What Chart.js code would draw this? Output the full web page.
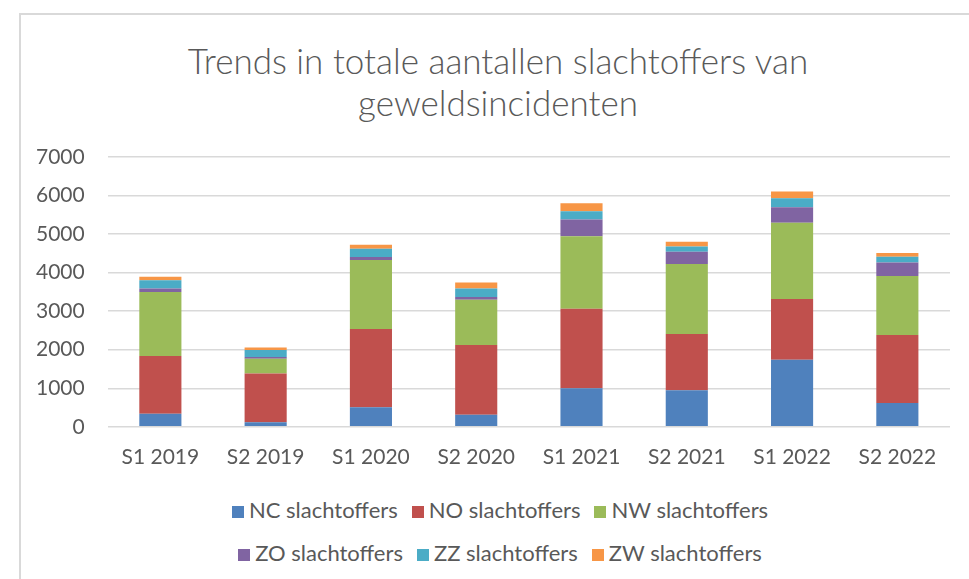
<!DOCTYPE html>
<html lang="nl">
<head>
  <meta charset="UTF-8" />
  <title>Trends slachtoffers</title>
  <script src="https://cdn.jsdelivr.net/npm/chart.js"></script>
  <style>
    body { margin: 0; background: #fff; font-family: Lato, sans-serif; }
    #frame {
      position: absolute; left: 19px; top: 13px; width: 1000px; height: 600px;
      border-left: 2px solid #d9d9d9; border-top: 2px solid #d9d9d9;
    }
    #title {
      position: absolute; left: 0; top: 39px; width: 996px; text-align: center;
      font-size: 35px; font-weight: 300; line-height: 42px; color: #595959;
    }
    #wrap { position: absolute; left: 0; top: 0; width: 969px; height: 480px; }
    .legend-row {
      position: absolute; left: 0; width: 1000px; text-align: center;
      font-size: 22px; color: #595959; white-space: nowrap;
    }
    .legend-row span.item { display: inline-block; margin: 0 7px; }
    .legend-row span.box {
      display: inline-block; width: 12px; height: 12px; margin-right: 5px; vertical-align: 0px;
    }
  </style>
</head>
<body>
  <div id="frame"></div>
  <div id="title">Trends in totale aantallen slachtoffers van<br>geweldsincidenten</div>
  <div id="wrap"><canvas id="chart"></canvas></div>
  <div class="legend-row" id="leg1" style="top:496px"></div>
  <div class="legend-row" id="leg2" style="top:539px"></div>

  <script>
    const labels = ['S1 2019', 'S2 2019', 'S1 2020', 'S2 2020', 'S1 2021', 'S2 2021', 'S1 2022', 'S2 2022'];
    const nc = [340, 115, 505, 315, 1000, 950, 1740, 620];
    const no = [1495, 1270, 2035, 1805, 2060, 1460, 1575, 1765];
    const nw = [1660, 380, 1785, 1175, 1885, 1815, 1980, 1530];
    const zo = [90, 45, 80, 70, 435, 315, 400, 345];
    const zz = [215, 180, 215, 225, 210, 140, 235, 155];
    const zw = [90, 70, 105, 155, 210, 120, 175, 95];
    const seriesNames = ['NC slachtoffers', 'NO slachtoffers', 'NW slachtoffers', 'ZO slachtoffers', 'ZZ slachtoffers', 'ZW slachtoffers'];
    const colors = ['#4F81BD', '#C0504D', '#9BBB59', '#8064A2', '#4BACC6', '#F79646'];
    const yTicks = [0, 1000, 2000, 3000, 4000, 5000, 6000, 7000];

    const values = [nc, no, nw, zo, zz, zw];
    const datasets = values.map((v, i) => ({
      label: seriesNames[i],
      data: v,
      backgroundColor: colors[i],
      borderWidth: 0,
      categoryPercentage: 1,
      barPercentage: 0.4
    }));

    const ctx = document.getElementById('chart');
    new Chart(ctx, {
      type: 'bar',
      data: { labels, datasets },
      options: {
        responsive: true,
        maintainAspectRatio: false,
        animation: false,
        layout: { padding: { left: 13, right: 19, top: 157, bottom: 0 } },
        plugins: {
          legend: { display: false },
          tooltip: { enabled: false }
        },
        scales: {
          x: {
            stacked: true,
            grid: { display: false },
            border: { display: false },
            ticks: { color: '#595959', font: { family: 'Lato', size: 21 }, padding: 10 }
          },
          y: {
            stacked: true,
            min: 0,
            max: 7000,
            afterBuildTicks: axis => { axis.ticks = yTicks.map(v => ({ value: v })); },
            grid: { color: '#d9d9d9', lineWidth: 1.5, drawTicks: false },
            border: { display: false },
            ticks: {
              color: '#595959', font: { family: 'Lato', size: 21 }, padding: 23,
              callback: v => String(v)
            }
          }
        }
      }
    });

    // legend in two rows of three, like the original
    function legendRow(id, from, to) {
      const row = document.getElementById(id);
      for (let i = from; i < to; i++) {
        row.innerHTML += `<span class="item"><span class="box" style="background:${colors[i]}"></span>${seriesNames[i]}</span>`;
      }
    }
    legendRow('leg1', 0, 3);
    legendRow('leg2', 3, 6);
  </script>
</body>
</html>
